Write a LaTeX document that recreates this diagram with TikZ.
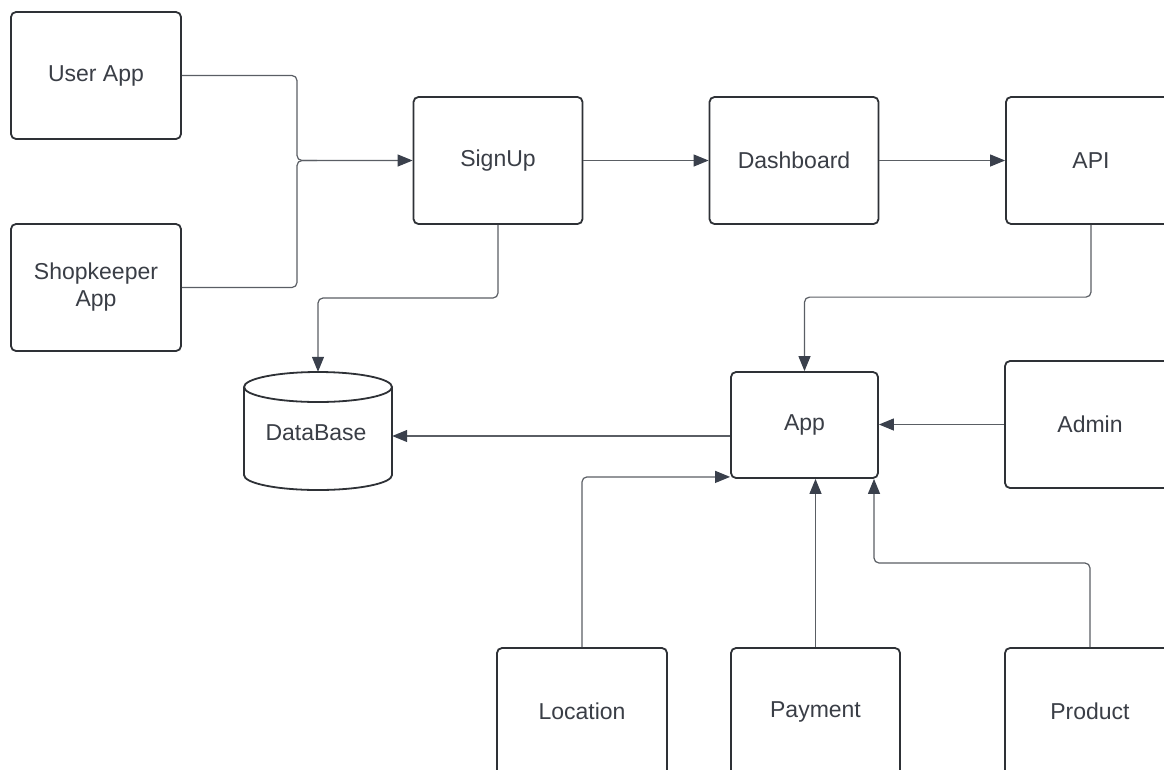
\documentclass[tikz,border=0pt]{standalone}
\usepackage{fontspec}
\setmainfont{Liberation Sans}
\usetikzlibrary{arrows.meta,calc}
\definecolor{edgec}{HTML}{2E3136}
\definecolor{linec}{HTML}{5A5E64}
\definecolor{tipc}{HTML}{3A404C}
\definecolor{txtc}{HTML}{3A3E46}
\begin{document}
\begin{tikzpicture}[x=1pt,y=-1pt,
  box/.style={draw=edgec, line width=1.8pt, rounded corners=5pt, fill=white,
    inner sep=0pt, text=txtc, font=\fontsize{23}{27}\selectfont, align=center},
  bigbox/.style={box, minimum width=170pt, minimum height=127pt},
  conn/.style={draw=linec, line width=1.2pt, rounded corners=5pt,
    -{Triangle[length=15pt,width=12pt,color=tipc]}},
  link/.style={draw=linec, line width=1.2pt, rounded corners=5pt}]
\useasboundingbox (0,0) rectangle (1164,769);
\clip (0,0) rectangle (1164,769);

% boxes
\node[bigbox] (user)   at (96,75.5)    {User App};
\node[bigbox] (shop)   at (96,287.5)   {Shopkeeper\\App};
\node[bigbox, minimum width=169pt] (signup) at (498,160.5)  {SignUp};
\node[bigbox, minimum width=169pt] (dash)   at (794,160.5)  {Dashboard};
\node[bigbox] (api)    at (1091,160.5) {API};
\node[box, minimum width=147pt, minimum height=106pt] (app) at (804.5,425) {App};
\node[bigbox] (admin)  at (1090,424.5) {Admin};
\node[bigbox] (loc)    at (582,711.5)  {Location};
\node[bigbox, minimum width=169pt] (pay) at (815.5,711.5) {Payment};
\node[bigbox] (prod)   at (1090,711.5) {Product};

% database cylinder
\node[minimum width=148pt, minimum height=118pt, inner sep=0pt] (db) at (318,431) {};
\draw[draw=edgec, line width=1.8pt, fill=white]
  (244,387) -- (244,475) arc[start angle=180, end angle=0, x radius=74, y radius=15]
  -- (392,387);
\draw[draw=edgec, line width=1.8pt, fill=white] (318,387) ellipse[x radius=74, y radius=15];
\node[text=txtc, font=\fontsize{23}{27}\selectfont] (dbl) at (316,433) {DataBase};

% merge of the two client apps into SignUp
\coordinate (jn) at (297,160.5);
\draw[conn] (user.east) -| (jn) -- (signup.west);
\draw[link] (shop.east) -| (jn) -- ++(20,0);

% top row
\draw[conn] (signup.east) -- (dash.west);
\draw[conn] (dash.east) -- (api.west);

% SignUp to DataBase
\coordinate (k1) at (318,298);
\draw[conn] (signup.south) |- (k1) -- (db.north);

% API to App
\draw[conn] (api.south) |- ([yshift=74pt]app.north) -- (app.north);

% App to DataBase
\draw[conn] ([yshift=-11pt]app.west) -- ([yshift=-11pt]app.west -| db.east);

% Admin to App
\draw[conn] (admin.west) -- (admin.west -| app.east);

% bottom row into App
\draw[conn] (loc.north) |- ([yshift=2pt]app.south west);
\draw[conn] (pay.north) -- (pay.north |- app.south);
\coordinate (k3) at (874,563);
\draw[conn] (prod.north) |- (k3) -- (k3 |- app.south);
\end{tikzpicture}
\end{document}
